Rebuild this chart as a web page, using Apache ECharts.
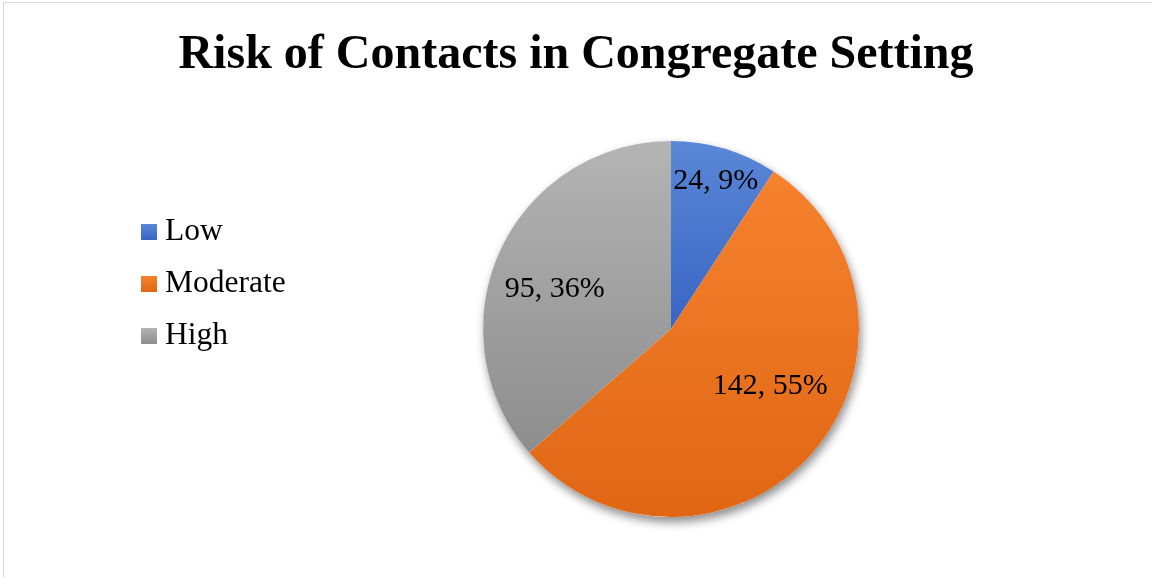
<!DOCTYPE html>
<html>
  <head>
    <meta charset="utf-8">
    <script src="https://cdn.jsdelivr.net/npm/echarts@6/dist/echarts.min.js"></script>
    <style>
      body { margin: 0; padding: 0; background: #fff; overflow: hidden; }
      #frame { position: absolute; left: 3px; top: 2px; width: 1300px; height: 700px; border: 1px solid #d9d9d9; }
      #chart { position: absolute; left: 0; top: 0; width: 1152px; height: 577px; }
    </style>
  </head>
  <body>
    <div id="frame"></div>
    <div id="chart"></div>
    <script>
      const categories = ['Low', 'Moderate', 'High'];
      const counts = [24, 142, 95];

      // top / bottom of each slice's vertical gradient
      const sliceColors = [
        ['#5b87d7', '#3865c2'],
        ['#f5822e', '#e06614'],
        ['#b4b4b4', '#8d8d8d']
      ];
      // nudges that move each label from the default inside spot to where Excel put it
      const labelNudge = [[17, -55], [26, -7], [-28, 0]];

      const serif = "'Liberation Serif', 'Times New Roman', serif";
      const chart = echarts.init(document.getElementById('chart'));

      const grad = (c) => new echarts.graphic.LinearGradient(0, 0, 0, 1, [
        { offset: 0, color: c[0] },
        { offset: 1, color: c[1] }
      ]);

      chart.setOption({
        animation: false,
        title: {
          text: 'Risk of Contacts in Congregate Setting',
          left: 'center',
          top: 27,
          textStyle: { fontFamily: serif, fontSize: 48, fontWeight: 'bold', color: '#000' }
        },
        legend: {
          orient: 'vertical',
          left: 136,
          top: 211,
          data: categories,
          icon: 'rect',
          itemWidth: 16,
          itemHeight: 16,
          itemGap: 20,
          textStyle: { fontFamily: serif, fontSize: 31.5, color: '#000', lineHeight: 31, padding: [0, 0, 0, 3] }
        },
        series: [
          {
            // plain disc under the slices, only to carry the soft shadow
            type: 'pie',
            silent: true,
            center: [671, 329],
            radius: 188,
            label: { show: false },
            labelLine: { show: false },
            itemStyle: {
              color: '#fff',
              shadowBlur: 10,
              shadowOffsetX: 2,
              shadowOffsetY: 5,
              shadowColor: 'rgba(0,0,0,0.45)'
            },
            data: [{ name: '', value: 1 }]
          },
          {
            type: 'pie',
            center: [671, 329],
            radius: 188,
            startAngle: 90,
            clockwise: true,
            percentPrecision: 0,
            label: {
              show: true,
              position: 'inside',
              formatter: '{c}, {d}%',
              fontFamily: serif,
              fontSize: 30,
              color: '#000'
            },
            labelLayout: (p) => ({ dx: labelNudge[p.dataIndex][0], dy: labelNudge[p.dataIndex][1] }),
            emphasis: { disabled: true },
            data: categories.map((name, i) => ({
              name,
              value: counts[i],
              itemStyle: { color: grad(sliceColors[i]) }
            }))
          }
        ]
      });
    </script>
  </body>
</html>
